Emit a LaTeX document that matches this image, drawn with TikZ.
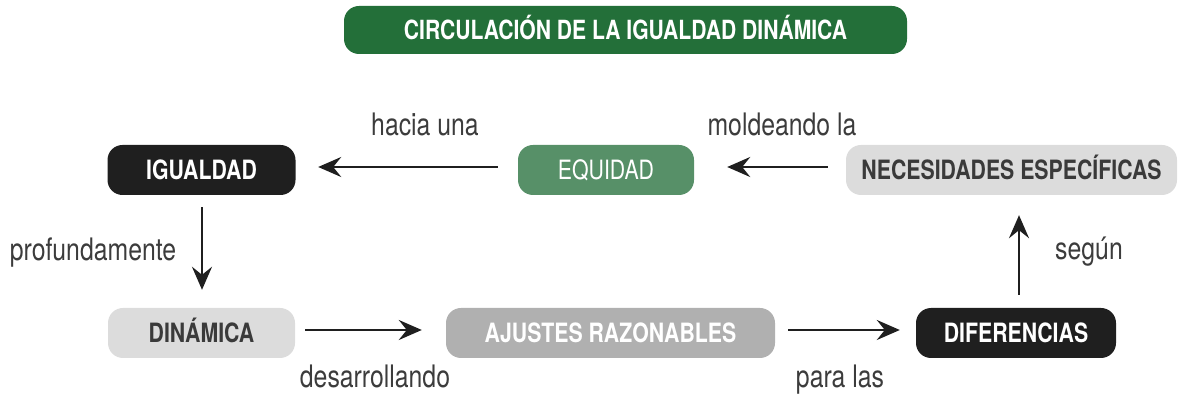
\documentclass[tikz,border=0pt]{standalone}
\usepackage{fontspec}
\setmainfont[FakeStretch=0.8]{TeX Gyre Heros}
\usetikzlibrary{arrows.meta,calc}
\definecolor{titlegreen}{HTML}{236F39}
\definecolor{eqgreen}{HTML}{579068}
\definecolor{lightg}{HTML}{DCDCDC}
\definecolor{midg}{HTML}{B0B0B0}
\definecolor{blackbox}{HTML}{1F1F1F}
\definecolor{darktext}{HTML}{3A3A3A}
\definecolor{labelc}{HTML}{3C3C3C}
\begin{document}
\begin{tikzpicture}[x=1pt,y=1pt,
  box/.style={rounded corners=15pt, minimum height=50pt, inner sep=0pt,
    text height=19pt, text depth=0pt,
    font=\fontsize{26.6}{28}\selectfont\bfseries},
  blackbx/.style={box, fill=blackbox, text=white},
  lightbx/.style={box, fill=lightg, text=darktext},
  midbx/.style={box, fill=midg, text=white},
  greenbx/.style={box, fill=eqgreen, text=white, font=\fontsize{26.6}{28}\selectfont},
  titlebx/.style={rounded corners=15pt, minimum height=48pt, minimum width=563pt,
    inner sep=0pt, text height=19pt, text depth=0pt, fill=titlegreen, text=white,
    font=\fontsize{26.4}{28}\selectfont\bfseries},
  lbl/.style={font=\fontsize{31}{32}\selectfont, text=labelc, anchor=base, inner sep=0pt},
  arr/.style={draw=blackbox, line width=2.5pt,
    -{Stealth[length=23pt, width=20pt, inset=8pt]}}
]
\useasboundingbox (0,0) rectangle (1190,398);

\node[titlebx] (title) at (625.5,368) {CIRCULACIÓN DE LA IGUALDAD DINÁMICA};

\node[blackbx, minimum width=188pt] (ig) at (201.5,228) {IGUALDAD};
\node[greenbx, minimum width=176pt] (eq) at (606,228) {EQUIDAD};
\node[lightbx, minimum width=331pt] (nec) at (1011.5,228) {NECESIDADES ESPECÍFICAS};
\node[lightbx, minimum width=187pt] (din) at (201.5,65) {DINÁMICA};
\node[midbx, minimum width=329pt] (aj) at (610.5,65) {AJUSTES RAZONABLES};
\node[blackbx, minimum width=200pt] (dif) at (1016,65) {DIFERENCIAS};

\draw[arr] ([shift={(-20,3)}]eq.west) -- ([shift={(22.5,3)}]ig.east);
\draw[arr] ([shift={(-18,3)}]nec.west) -- ([shift={(33,3)}]eq.east);
\draw[arr] ([shift={(0.5,-12)}]ig.south) -- ($(ig.south |- din.north)+(0.5,18)$);
\draw[arr] ([shift={(10,3)}]din.east) -- ([shift={(-24,3)}]aj.west);
\draw[arr] ([shift={(13,3)}]aj.east) -- ([shift={(-16,3)}]dif.west);
\draw[arr] ([shift={(3,13)}]dif.north) -- ($(dif.north |- nec.south)+(3,-20)$);

\node[lbl] (l1) at (425,262) {hacia una};
\node[lbl] (l2) at (782,262) {moldeando la};
\node[lbl] (l3) at (93,137) {profundamente};
\node[lbl] (l4) at (1089,138) {según};
\node[lbl] (l5) at (375,10) {desarrollando};
\node[lbl] (l6) at (840,10) {para las};
\end{tikzpicture}
\end{document}
